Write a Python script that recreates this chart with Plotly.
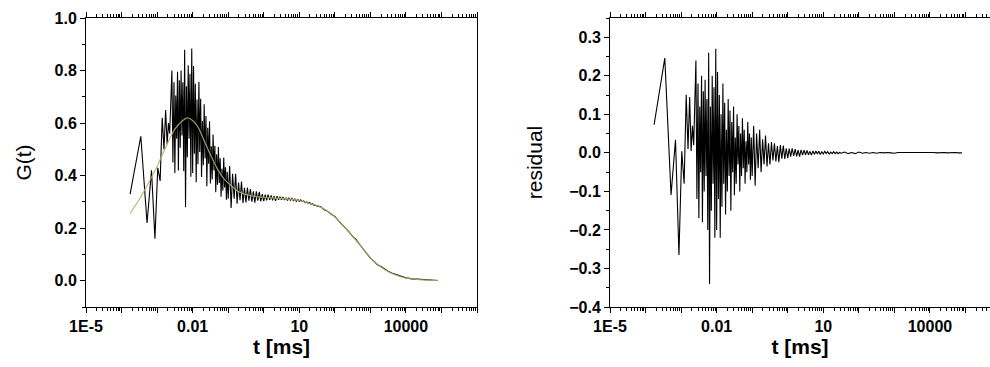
import plotly.graph_objects as go

# ---------------- data ----------------
# lag times in ms (shared by the measured curve and the residuals)
t_ms = [
    # linear correlator channels
    1.74e-4, 3.48e-4, 5.22e-4, 6.96e-4, 8.70e-4, 1.044e-3, 1.218e-3, 1.392e-3,
    1.566e-3, 1.74e-3, 1.914e-3, 2.088e-3, 2.262e-3, 2.436e-3, 2.61e-3, 2.784e-3,
    # 1e-3 decade
    2.99e-3, 3.16e-3, 3.35e-3, 3.55e-3, 3.76e-3, 3.98e-3, 4.22e-3, 4.47e-3, 4.73e-3,
    5.01e-3, 5.31e-3, 5.62e-3, 5.96e-3, 6.31e-3, 6.68e-3, 7.08e-3, 7.50e-3, 7.94e-3,
    8.41e-3, 8.91e-3, 9.44e-3,
    # 1e-2 decade
    1.00e-2, 1.06e-2, 1.12e-2, 1.19e-2, 1.26e-2, 1.33e-2, 1.41e-2, 1.50e-2, 1.58e-2,
    1.68e-2, 1.78e-2, 1.88e-2, 2.00e-2, 2.11e-2, 2.24e-2, 2.37e-2, 2.51e-2, 2.66e-2,
    2.82e-2, 2.99e-2, 3.16e-2, 3.35e-2, 3.55e-2, 3.76e-2, 3.98e-2, 4.22e-2, 4.47e-2,
    4.73e-2, 5.01e-2, 5.31e-2, 5.62e-2, 5.96e-2, 6.31e-2, 6.68e-2, 7.08e-2, 7.50e-2,
    7.94e-2, 8.41e-2, 8.91e-2, 9.44e-2,
    # 0.1 decade
    0.100, 0.110, 0.121, 0.133, 0.147, 0.162, 0.178, 0.196, 0.215, 0.237, 0.261, 0.287,
    0.316, 0.348, 0.383, 0.422, 0.464, 0.511, 0.562, 0.619, 0.681, 0.750, 0.825, 0.909,
    # 1 decade
    1.00, 1.10, 1.21, 1.33, 1.47, 1.62, 1.78, 1.96, 2.15, 2.37, 2.61, 2.87,
    3.16, 3.48, 3.83, 4.22, 4.64, 5.11, 5.62, 6.19, 6.81, 7.50, 8.25, 9.09,
    # 10 decade
    10.0, 11.0, 12.1, 13.3, 14.7, 16.2, 17.8, 19.6, 21.5, 23.7, 26.1, 28.7, 31.6,
    # long times
    39.8, 50.1, 63.1, 79.4, 100, 126, 158, 200, 251, 316, 398, 501, 631, 794,
    1000, 1260, 1580, 2000, 2510, 3160, 3980, 5010, 6310, 7940, 10000, 12600,
    15800, 20000, 25100, 31600, 39800, 50100, 63100, 79400,
]

g_data = [
    0.33, 0.55, 0.22, 0.42, 0.16, 0.43, 0.38, 0.62, 0.50, 0.65, 0.52, 0.60, 0.56, 0.72, 0.80, 0.45,
    0.755, 0.41, 0.705, 0.54, 0.795, 0.42, 0.763, 0.506, 0.80, 0.553, 0.755, 0.417, 0.879, 0.28,
    0.74, 0.47, 0.82, 0.54, 0.788, 0.396, 0.884,
    0.41, 0.817, 0.483, 0.75, 0.375, 0.69, 0.443, 0.757, 0.49, 0.693, 0.395, 0.608, 0.44, 0.672,
    0.465, 0.627, 0.36, 0.582, 0.445, 0.607, 0.37, 0.512, 0.385, 0.557, 0.42, 0.514, 0.337, 0.481,
    0.365, 0.509, 0.372, 0.466, 0.32, 0.426, 0.343, 0.469, 0.355, 0.432, 0.308, 0.415,
    0.312, 0.437, 0.277, 0.407, 0.312, 0.407, 0.293, 0.374, 0.306, 0.378, 0.296, 0.354,
    0.298, 0.355, 0.305, 0.349, 0.301, 0.34, 0.297, 0.34, 0.305, 0.338, 0.302, 0.33,
    0.303, 0.328, 0.306, 0.328, 0.308, 0.325, 0.306, 0.322, 0.304, 0.322, 0.308, 0.32,
    0.308, 0.319, 0.307, 0.316, 0.305, 0.315, 0.306, 0.314, 0.305, 0.311, 0.302, 0.309,
    0.302, 0.308, 0.301, 0.304, 0.297, 0.30, 0.295, 0.298, 0.291, 0.293, 0.287, 0.288, 0.284,
    0.282, 0.27, 0.264, 0.253, 0.245, 0.229, 0.216, 0.199, 0.186, 0.169, 0.156, 0.138,
    0.121, 0.103, 0.086, 0.074, 0.061, 0.054, 0.044, 0.036, 0.029, 0.024, 0.018, 0.014,
    0.011, 0.009, 0.006, 0.006, 0.005, 0.003, 0.003, 0.003, 0.001, 0.001,
]

residual = [
    0.073, 0.246, -0.109, 0.034, -0.265, 0.004, -0.08, 0.151, 0.01, 0.145, 0.005, 0.07, 0.02, 0.17, 0.24, -0.12,
    0.18, -0.17, 0.12, -0.05, 0.20, -0.18, 0.16, -0.10, 0.19, -0.06, 0.14, -0.20, 0.26, -0.34,
    0.12, -0.15, 0.20, -0.08, 0.17, -0.22, 0.27,
    -0.20, 0.21, -0.12, 0.15, -0.22, 0.10, -0.14, 0.18, -0.08, 0.13, -0.16, 0.06, -0.10, 0.14,
    -0.06, 0.11, -0.15, 0.08, -0.05, 0.12, -0.11, 0.04, -0.08, 0.10, -0.03, 0.07, -0.10, 0.05,
    -0.06, 0.09, -0.04, 0.06, -0.08, 0.03, -0.05, 0.08, -0.03, 0.05, -0.07, 0.04,
    -0.06, 0.07, -0.085, 0.05, -0.04, 0.06, -0.05, 0.035, -0.03, 0.045, -0.035, 0.025,
    -0.03, 0.028, -0.02, 0.025, -0.022, 0.018, -0.024, 0.02, -0.015, 0.019, -0.016, 0.012,
    -0.014, 0.011, -0.01, 0.012, -0.008, 0.01, -0.009, 0.007, -0.01, 0.008, -0.006, 0.007,
    -0.005, 0.006, -0.005, 0.004, -0.006, 0.005, -0.004, 0.005, -0.003, 0.004, -0.004, 0.003,
    -0.003, 0.004, -0.002, 0.003, -0.003, 0.002, -0.002, 0.003, -0.002, 0.002, -0.002, 0.001, -0.001,
    0.002, -0.002, 0.001, -0.002, 0.002, -0.001, 0.001, -0.001, 0.001, -0.001, 0.001, 0.0,
    0.001, 0.0, -0.001, 0.001, 0.001, 0.002, 0.001, 0.001, 0.001, 0.002, 0.001, 0.001,
    0.001, 0.001, 0.0, 0.001, 0.001, 0.0, 0.001, 0.001, 0.0, 0.0,
]

# fitted model curve
t_fit = [1.74e-4, 3.16e-4, 5.62e-4, 1.0e-3, 1.78e-3, 3.16e-3, 5.01e-3, 7.08e-3, 1.0e-2,
         1.41e-2, 2.0e-2, 3.16e-2, 5.01e-2, 7.94e-2, 0.126, 0.2, 0.398, 1.0, 3.16, 10, 20,
         39.8, 79.4, 158, 316, 631, 1260, 2510, 5010, 10000, 20000, 39800, 79400]
g_fit = [0.256, 0.31, 0.37, 0.435, 0.51, 0.577, 0.607, 0.62, 0.61, 0.585, 0.54, 0.48,
         0.425, 0.385, 0.36, 0.338, 0.325, 0.317, 0.313, 0.305, 0.294, 0.28, 0.255, 0.215,
         0.17, 0.12, 0.073, 0.043, 0.022, 0.01, 0.005, 0.002, 0.001]

x_major = [1e-5, 1e-4, 1e-3, 1e-2, 1e-1, 1, 10, 100, 1e3, 1e4, 1e5, 1e6]
x_labels = ["1E-5", "", "", "0.01", "", "", "10", "", "", "10000", "", ""]

# ---------------- figure ----------------
W, H = 990, 367
FONT = "Liberation Sans, Arial, sans-serif"

minor_x = [m * d for d in x_major[:-1] for m in range(2, 10)]

fig = go.Figure()
fig.add_trace(go.Scatter(x=t_ms, y=g_data, mode="lines", line=dict(color="black", width=1.1),
                         xaxis="x", yaxis="y", showlegend=False))
fig.add_trace(go.Scatter(x=t_fit, y=g_fit, mode="lines", line=dict(color="#b3b070", width=1.3, shape="spline"),
                         opacity=0.85, xaxis="x", yaxis="y", showlegend=False))
fig.add_trace(go.Scatter(x=t_ms, y=residual, mode="lines", line=dict(color="black", width=1.1),
                         xaxis="x2", yaxis="y2", showlegend=False))

y_dom = [1 - 307 / H, 1 - 18 / H]


def xaxis(domain, rng, anchor):
    return dict(
        type="log", domain=domain, range=rng, anchor=anchor, automargin=False,
        tickmode="array", tickvals=x_major, ticktext=x_labels,
        ticks="outside", ticklen=5, tickwidth=1, tickcolor="black",
        minor=dict(tickmode="array", tickvals=minor_x, ticks="outside", ticklen=3,
                   tickcolor="black", tickwidth=1),
        showline=True, linecolor="black", linewidth=1, mirror="allticks",
        showgrid=False, zeroline=False,
        tickfont=dict(family=FONT, size=16, color="black", weight="bold"),
        title=dict(text="t [ms]", font=dict(family=FONT, size=21, color="black", weight="bold"),
                   standoff=5),
    )


def yaxis(rng, anchor, dtick, minor_dtick, title, standoff, mirror):
    return dict(
        domain=y_dom, range=rng, anchor=anchor, automargin=False,
        tickmode="linear", tick0=0, dtick=dtick, tickformat=".1f",
        ticks="outside", ticklen=5, tickcolor="black",
        minor=dict(tick0=0, dtick=minor_dtick, ticks="outside", ticklen=3, tickcolor="black"),
        showline=True, linecolor="black", linewidth=1, mirror=mirror,
        showgrid=False, zeroline=False,
        tickfont=dict(family=FONT, size=16, color="black", weight="bold"),
        title=dict(text=title, font=dict(family=FONT, size=21, color="black"), standoff=standoff),
    )


fig.update_layout(
    width=W, height=H,
    margin=dict(l=0, r=0, t=0, b=0, autoexpand=False),
    paper_bgcolor="white", plot_bgcolor="white",
    xaxis=xaxis([86 / W, 477 / W], [-5, 6], "y"),
    xaxis2=xaxis([610 / W, 1.0], [-5, -5 + 380 / 35.55], "y2"),
    yaxis=yaxis([-0.1, 1.0], "x", 0.2, 0.1, "G(t)", 17, True),
    yaxis2=yaxis([-0.4, 0.35], "x2", 0.1, 0.05, "residual", 20, False),
)

fig.write_html("out.html")
